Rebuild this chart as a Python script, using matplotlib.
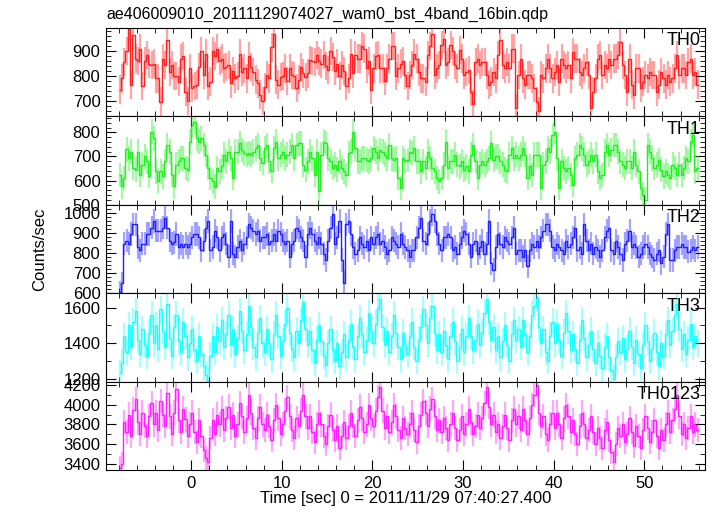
import numpy as np
import matplotlib.pyplot as plt
from matplotlib.ticker import MultipleLocator

plt.rcParams['font.family'] = ['Liberation Sans', 'DejaVu Sans']

title = 'ae406009010_20111129074027_wam0_bst_4band_16bin.qdp'
xlabel = 'Time [sec] 0 = 2011/11/29 07:40:27.400'
ylabel = 'Counts/sec'

# light curves (counts/sec), bins spread evenly over -8 .. 56 s
th0 = [745, 790, 855, 900, 990, 765, 965, 870, 860, 910, 760, 860, 885, 850, 845, 850, 790, 790, 697, 870,
       845, 945, 815, 845, 800, 800, 777, 870, 880, 737, 700, 830, 750, 760, 765, 835, 900, 805, 890, 760,
       777, 900, 880, 910, 860, 870, 830, 835, 845, 770, 820, 790, 800, 890, 815, 830, 790, 880, 835, 817,
       785, 770, 725, 700, 755, 805, 790, 915, 970, 785, 765, 795, 800, 830, 780, 830, 805, 800, 750, 785,
       835, 810, 795, 810, 865, 860, 855, 885, 860, 850, 885, 840, 825, 900, 875, 820, 850, 800, 845, 820,
       760, 790, 890, 810, 885, 870, 870, 920, 910, 830, 860, 745, 830, 880, 885, 830, 830, 780, 830, 870,
       920, 920, 800, 830, 850, 860, 805, 760,
       805, 845, 890, 870, 817, 790, 790, 777, 885, 920, 970, 805, 830, 845, 925, 950, 845, 857, 925, 900,
       845, 830, 905, 870, 805, 817, 824, 737, 685, 857, 870, 845, 857, 857, 805, 765, 777, 817, 790, 885,
       945, 845, 830, 857, 830, 910, 910, 670, 805, 870, 790, 765, 805, 805, 790, 750, 697, 657, 805, 790,
       830, 870, 830, 790, 817, 845, 777, 870, 845, 830, 845, 790, 897, 870, 870, 817, 805, 830, 857, 805,
       670, 737, 790, 870, 885, 805, 845, 830, 870, 845, 870, 870, 885, 937, 845, 805, 737, 870, 765, 724,
       830, 830, 750, 777, 805, 790, 817, 805, 805, 737, 765, 817, 790, 765, 805, 777, 790, 830, 885, 805,
       830, 830, 805, 857, 870, 805, 817, 765]
th1 = [624, 576, 611, 730, 693, 720, 652, 645, 720, 624, 666, 700, 680, 620, 803, 775, 638, 600, 638, 618,
       680, 748, 720, 624, 576, 666, 680, 693, 693, 652, 645, 762, 830, 844, 775, 762, 775, 748, 707, 652,
       611, 597, 575, 652, 638, 659, 707, 680, 720, 693, 611, 720, 720, 755, 727, 714, 707, 714, 707, 720,
       734, 748, 693, 673, 734, 748, 680, 640, 734, 762, 693, 707, 720, 693, 707, 720, 748, 693, 748, 755,
       755, 666, 645, 680, 720, 693, 624, 720, 556, 707, 762, 755, 693, 680, 652, 666, 645, 680, 652, 638,
       624, 714, 720, 803, 734, 680, 680, 693, 693, 686, 680, 693, 734, 720, 693, 727, 720, 707, 693, 748,
       693, 686, 693, 611, 570, 693, 680, 686,
       720, 714, 734, 680, 680, 638, 680, 652, 720, 693, 652, 638, 611, 597, 611, 666, 762, 652, 680, 680,
       707, 666, 659, 680, 645, 659, 638, 707, 748, 680, 611, 666, 680, 666, 680, 693, 755, 686, 700, 700,
       680, 666, 645, 638, 707, 734, 693, 707, 693, 707, 734, 707, 611, 659, 624, 707, 707, 707, 570, 666,
       680, 734, 720, 789, 803, 693, 570, 680, 652, 638, 652, 624, 583, 693, 707, 748, 734, 707, 666, 680,
       707, 680, 707, 638, 611, 624, 720, 748, 707, 727, 748, 748, 720, 680, 666, 652, 680, 680, 652, 720,
       666, 638, 570, 542, 521, 748, 720, 693, 652, 666, 686, 645, 618, 638, 624, 611, 666, 652, 624, 666,
       624, 652, 693, 680, 762, 789, 638, 652]
th2 = [605, 650, 846, 862, 846, 895, 943, 943, 830, 814, 846, 846, 895, 895, 927, 960, 911, 911, 911, 927,
       976, 927, 862, 846, 854, 895, 830, 846, 830, 846, 830, 846, 878, 895, 895, 878, 814, 862, 927, 960,
       814, 830, 911, 878, 814, 878, 895, 846, 781, 960, 797, 781, 830, 862, 814, 846, 878, 943, 927, 911,
       895, 911, 862, 878, 878, 895, 846, 862, 895, 862, 911, 895, 862, 846, 862, 781, 846, 862, 927, 911,
       878, 862, 781, 895, 927, 895, 862, 846, 878, 846, 797, 765, 862, 927, 992, 846, 878, 960, 765, 651,
       943, 960, 895, 830, 797, 814, 878, 846, 830, 862, 814, 878, 846, 878, 895, 846, 862, 830, 797, 814,
       878, 862, 846, 830, 895, 846, 830, 814,
       781, 814, 814, 878, 927, 976, 862, 846, 895, 960, 992, 960, 895, 846, 814, 878, 878, 895, 878, 814,
       830, 797, 846, 878, 911, 895, 846, 781, 846, 862, 797, 830, 862, 797, 846, 960, 749, 716, 830, 895,
       846, 830, 878, 862, 846, 878, 927, 797, 814, 814, 781, 814, 733, 814, 846, 830, 862, 830, 878, 911,
       943, 943, 911, 830, 814, 846, 830, 814, 797, 862, 830, 846, 878, 927, 814, 830, 797, 943, 862, 814,
       846, 797, 830, 814, 781, 814, 878, 911, 927, 814, 797, 862, 830, 797, 765, 846, 862, 911, 830, 846,
       830, 781, 797, 830, 846, 830, 797, 781, 765, 797, 814, 749, 781, 895, 943, 765, 765, 814, 830, 830,
       846, 830, 830, 806, 814, 830, 814, 830]
th3 = [1230, 1290, 1440, 1350, 1500, 1380, 1520, 1580, 1420, 1340, 1480, 1390, 1330, 1460, 1560, 1400,
       1500, 1370, 1590, 1470, 1380, 1620, 1430, 1330, 1490, 1560, 1410, 1350, 1520, 1440, 1320, 1400,
       1480, 1360, 1300, 1440, 1340, 1270, 1220, 1190, 1330, 1440, 1350, 1490, 1410, 1530, 1380, 1450,
       1560, 1390, 1480, 1340, 1430, 1580, 1470, 1360, 1450, 1610, 1490, 1380, 1320, 1460, 1540, 1400,
       1350, 1480, 1400, 1310, 1450, 1560, 1440, 1330, 1410, 1510, 1600, 1460, 1370, 1320, 1470, 1400,
       1530, 1630, 1480, 1390, 1470, 1360, 1290, 1420, 1500, 1410, 1330, 1280, 1400, 1480, 1360, 1300,
       1400, 1270, 1350, 1450, 1320, 1420, 1510, 1380, 1310, 1440, 1540, 1450, 1350, 1420, 1570, 1470,
       1400, 1510, 1600, 1650, 1490, 1390, 1470, 1350, 1440, 1560, 1460, 1380, 1310, 1460, 1390, 1340,
       1440, 1520, 1380, 1300, 1420, 1490, 1590, 1500, 1400, 1540, 1610, 1460, 1360, 1450, 1350, 1470,
       1390, 1310, 1440, 1520, 1410, 1300, 1380, 1480, 1350, 1440, 1540, 1440, 1360, 1420, 1510, 1390,
       1460, 1570, 1650, 1520, 1420, 1490, 1360, 1440, 1320, 1410, 1500, 1390, 1300, 1450, 1530, 1420,
       1480, 1380, 1530, 1450, 1350, 1440, 1560, 1610, 1660, 1490, 1400, 1480, 1350, 1300, 1440, 1520,
       1400, 1510, 1420, 1330, 1460, 1570, 1470, 1360, 1450, 1370, 1290, 1420, 1530, 1430, 1320, 1390,
       1470, 1370, 1290, 1400, 1330, 1260, 1380, 1440, 1320, 1250, 1200, 1320, 1410, 1350, 1430, 1310,
       1370, 1470, 1380, 1290, 1420, 1340, 1260, 1390, 1500, 1410, 1300, 1370, 1460, 1350, 1270, 1400,
       1330, 1450, 1530, 1390, 1470, 1560, 1620, 1480, 1370, 1450, 1340, 1420, 1510, 1380, 1440, 1400]
th0123 = [3360, 3400, 3820, 3720, 3900, 3680, 3950, 4060, 3820, 3700, 3920, 3780, 3680, 3880, 4020, 3800,
          3920, 3740, 4040, 3900, 3780, 4120, 3880, 3700, 3920, 4160, 3840, 3720, 3960, 3850, 3680, 3800,
          3920, 3720, 3620, 3840, 3680, 3540, 3460, 3420, 3660, 3840, 3700, 3900, 3800, 3960, 3740, 3860,
          3980, 3760, 3900, 3680, 3800, 4020, 3880, 3720, 3860, 4100, 3920, 3760, 3660, 3860, 3980, 3800,
          3740, 3900, 3780, 3640, 3840, 4000, 3860, 3700, 3800, 3940, 4080, 3880, 3740, 3660, 3860, 3780,
          3940, 4100, 3880, 3760, 3880, 3720, 3620, 3800, 3920, 3800, 3680, 3600, 3780, 3900, 3740, 3640,
          3780, 3560, 3680, 3820, 3660, 3780, 3920, 3780, 3680, 3840, 3980, 3860, 3720, 3800, 4000, 3860,
          3780, 3940, 4080, 4180, 3940, 3760, 3880, 3720, 3820, 4000, 3880, 3740, 3660, 3860, 3760, 3700,
          3800, 3920, 3740, 3620, 3780, 3900, 4040, 3920, 3780, 3960, 4060, 3880, 3740, 3840, 3720, 3860,
          3760, 3640, 3800, 3920, 3760, 3640, 3740, 3880, 3700, 3800, 3960, 3820, 3700, 3780, 3900, 3760,
          3860, 4020, 4180, 3980, 3800, 3900, 3720, 3800, 3660, 3780, 3900, 3760, 3640, 3840, 3960, 3800,
          3880, 3740, 3960, 3840, 3700, 3860, 4000, 4100, 4200, 3920, 3780, 3880, 3700, 3640, 3800, 3920,
          3760, 3920, 3800, 3660, 3860, 4000, 3880, 3720, 3840, 3700, 3600, 3780, 3920, 3800, 3660, 3740,
          3880, 3720, 3600, 3760, 3660, 3560, 3740, 3820, 3640, 3520, 3420, 3600, 3760, 3680, 3800, 3620,
          3700, 3860, 3720, 3580, 3780, 3680, 3560, 3740, 3880, 3760, 3620, 3720, 3840, 3680, 3560, 3740,
          3640, 3800, 3920, 3720, 3840, 3960, 4100, 3880, 3700, 3800, 3660, 3760, 3880, 3720, 3800, 3740]

bands = ['TH0', 'TH1', 'TH2', 'TH3', 'TH0123']
rates = [th0, th1, th2, th3, th0123]
errs = [57, 51, 58, 75, 122]   # typical half length of the error bars
colors = ['#ff2020', '#20f020', '#2020ff', '#20ffff', '#ff20ff']
ylims = [(637, 993), (500, 866), (600, 1040), (1184, 1681), (3340, 4232)]
ymajor = [100, 100, 100, 200, 200]
yminor = [20, 20, 20, 100, 100]

t0, t1 = -8.0, 56.0

fig = plt.figure(figsize=(7.17, 5.16), dpi=100)
left, right = 106 / 717, 705 / 717
top, bottom = 1 - 28 / 516, 1 - 470 / 516
h = (top - bottom) / 5

for k in range(5):
    ax = fig.add_axes([left, top - (k + 1) * h, right - left, h])
    y = np.array(rates[k], dtype=float)
    n = len(y)
    edges = t0 + (t1 - t0) * np.arange(n + 1) / n
    mid = 0.5 * (edges[:-1] + edges[1:])
    ax.errorbar(mid, y, yerr=errs[k], fmt='none', ecolor=colors[k], elinewidth=1.6, alpha=0.4)
    ax.stairs(y, edges, color=colors[k], lw=1.0, baseline=None)

    ax.set_xlim(-9.4, 56.7)
    ax.set_ylim(*ylims[k])
    ax.xaxis.set_major_locator(MultipleLocator(10))
    ax.xaxis.set_minor_locator(MultipleLocator(2))
    ax.yaxis.set_major_locator(MultipleLocator(ymajor[k]))
    ax.yaxis.set_minor_locator(MultipleLocator(yminor[k]))
    ax.tick_params(which='both', direction='in', top=True, right=True, labelsize=12, pad=4)
    ax.tick_params(which='major', length=7)
    ax.tick_params(which='minor', length=3.5)
    ax.tick_params(labelbottom=(k == 4))
    ax.text(0.993, 0.95, bands[k], transform=ax.transAxes, ha='right', va='top', fontsize=13)

fig.text(left, 1 - 14 / 516, title, ha='left', va='center', fontsize=11.5)
fig.text(0.5 * (left + right), 1 - 498 / 516, xlabel, ha='center', va='center', fontsize=12)
fig.text(40 / 717, 0.5 * (top + bottom), ylabel, rotation=90, ha='center', va='center', fontsize=12)

plt.savefig('out.png', dpi=100)
